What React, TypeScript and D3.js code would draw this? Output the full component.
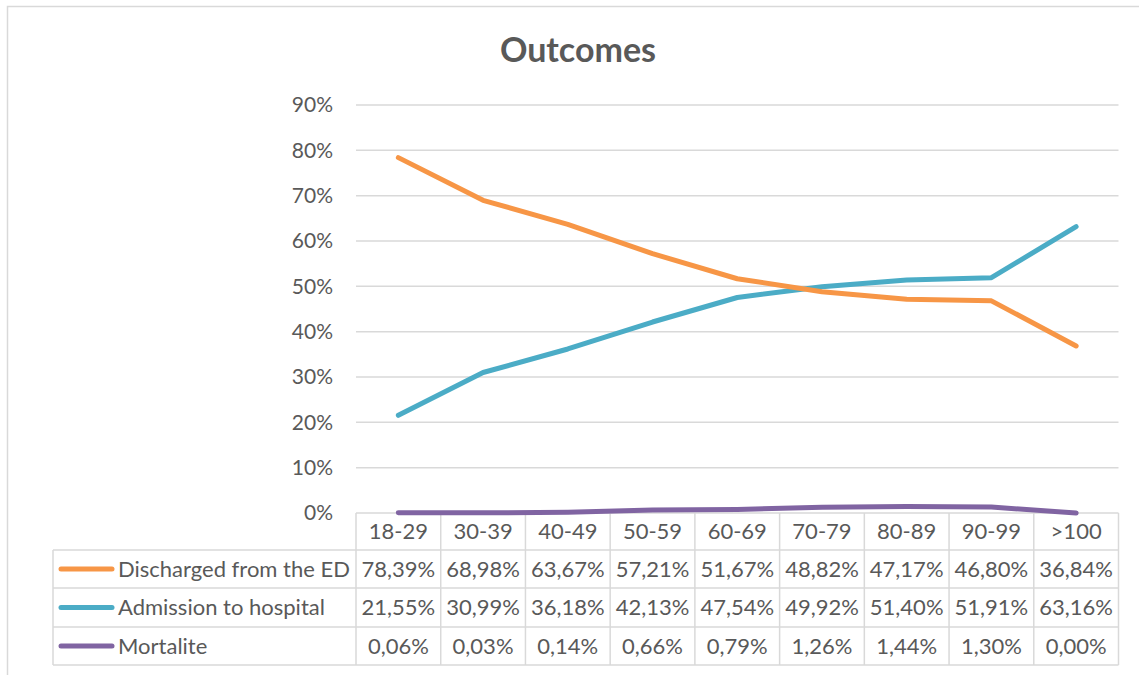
import React from "react";
import * as d3 from "d3";

const categories = ["18-29", "30-39", "40-49", "50-59", "60-69", "70-79", "80-89", "90-99", ">100"];
const discharged = [78.39, 68.98, 63.67, 57.21, 51.67, 48.82, 47.17, 46.8, 36.84];
const admission = [21.55, 30.99, 36.18, 42.13, 47.54, 49.92, 51.4, 51.91, 63.16];
const mortalite = [0.06, 0.03, 0.14, 0.66, 0.79, 1.26, 1.44, 1.3, 0.0];
const yTicks = [0, 10, 20, 30, 40, 50, 60, 70, 80, 90];

const seriesList = [
  { name: "Discharged from the ED", values: discharged, color: "#F79646" },
  { name: "Admission to hospital", values: admission, color: "#4BACC6" },
  { name: "Mortalite", values: mortalite, color: "#8064A2" },
];

const FONT = "Lato, 'Open Sans', sans-serif";
const TXT = "#595959";
const GRID = "#D9D9D9";
const FS = 22;

export default function App() {
  const W = 1139, H = 675;
  const plotL = 356, plotR = 1118.5, plotT = 105, plotB = 513;
  const tableL = 53;
  const rowEdges = [513, 550, 588, 627, 665];

  const x = d3.scaleBand<string>().domain(categories).range([plotL, plotR]).padding(0);
  const y = d3.scaleLinear().domain([0, 90]).range([plotB, plotT]);
  const cx = (c: string) => (x(c) as number) + x.bandwidth() / 2;

  const line = d3
    .line<number>()
    .x((_, i) => cx(categories[i]))
    .y((v) => y(v));

  const fmt = (v: number) => v.toFixed(2).replace(".", ",") + "%";
  const colEdges = categories.map((c) => x(c) as number).concat([plotR]);

  return (
    <svg width={W} height={H} style={{ position: "absolute", left: 0, top: 0, background: "#fff" }} fontFamily={FONT}>
      <rect x={7.5} y={6.5} width={W + 20} height={H + 20} fill="#fff" stroke={GRID} strokeWidth={1.5} />
      <text x={578} y={62} textAnchor="middle" fontSize={34} fontWeight="bold" fill={TXT}>
        Outcomes
      </text>

      {yTicks.map((t) => (
        <g key={t}>
          <line x1={plotL} x2={plotR} y1={y(t)} y2={y(t)} stroke={GRID} strokeWidth={1.5} />
          <text x={333} y={y(t)} dy="0.35em" textAnchor="end" fontSize={21} fill={TXT}>
            {t}%
          </text>
        </g>
      ))}

      {/* table grid */}
      {colEdges.map((e, i) => (
        <line key={"v" + i} x1={e} x2={e} y1={rowEdges[0]} y2={rowEdges[4]} stroke={GRID} strokeWidth={1.5} />
      ))}
      <line x1={tableL} x2={tableL} y1={rowEdges[1]} y2={rowEdges[4]} stroke={GRID} strokeWidth={1.5} />
      {rowEdges.slice(1).map((r, i) => (
        <line key={"h" + i} x1={tableL} x2={plotR} y1={r} y2={r} stroke={GRID} strokeWidth={1.5} />
      ))}

      {categories.map((c) => (
        <text key={c} x={cx(c)} y={(rowEdges[0] + rowEdges[1]) / 2} dy="0.35em" textAnchor="middle" fontSize={FS} fill={TXT}>
          {c}
        </text>
      ))}

      {seriesList.map((s, si) => {
        const ym = (rowEdges[si + 1] + rowEdges[si + 2]) / 2;
        return (
          <g key={s.name}>
            <line x1={61} x2={112} y1={ym} y2={ym} stroke={s.color} strokeWidth={5} strokeLinecap="round" />
            <text x={118} y={ym} dy="0.35em" fontSize={FS} fill={TXT}>
              {s.name}
            </text>
            {s.values.map((v, i) => (
              <text key={i} x={cx(categories[i])} y={ym} dy="0.35em" textAnchor="middle" fontSize={FS} fill={TXT}>
                {fmt(v)}
              </text>
            ))}
          </g>
        );
      })}

      {seriesList
        .slice()
        .reverse()
        .map((s) => (
          <path key={s.name} d={line(s.values) || ""} fill="none" stroke={s.color} strokeWidth={5} strokeLinecap="round" strokeLinejoin="round" />
        ))}
    </svg>
  );
}
